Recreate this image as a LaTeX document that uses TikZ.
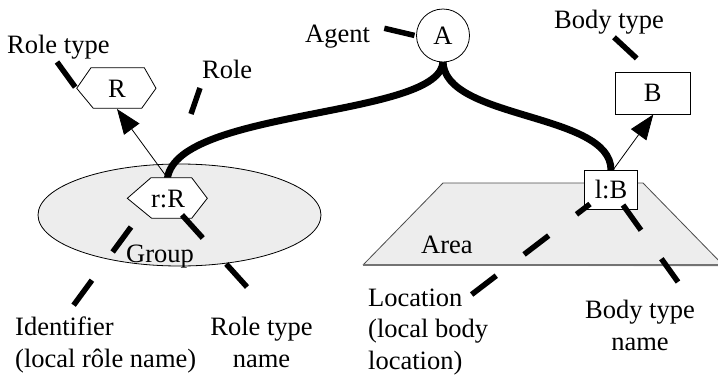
\documentclass[tikz,border=0pt]{standalone}
\usepackage{fontspec}
\setmainfont{Liberation Serif}
\usetikzlibrary{arrows.meta}

\definecolor{zonefill}{HTML}{EDEDED}

\tikzset{
  lbl/.style={inner sep=0pt, font=\fontsize{26.5}{31.5}\selectfont},
  lblL/.style={lbl, anchor=base west},
  lblC/.style={lbl, anchor=base},
  bond/.style={line width=7pt, line cap=round},
  typeof/.style={line width=0.8pt, -{Triangle[length=25pt,width=19pt]}},
  pointer/.style={line width=5.5pt, dash pattern=on 31pt off 35pt},
  shapeline/.style={line width=0.8pt, fill=white},
}

\begin{document}
\begin{tikzpicture}[x=1pt, y=-1pt]
\useasboundingbox (0,0) rectangle (718,378);

% group (ellipse) and area (trapezoid)
\draw[fill=zonefill, line width=0.8pt] (179.5,215) ellipse [x radius=141.5, y radius=51];
\fill[zonefill] (443,183) -- (643,183) -- (725,267) -- (363,265) -- cycle;
\draw[black!70, line width=0.8pt] (363,265) -- (443,183) -- (643,183) -- (725,267);
\draw[black!55, line width=2pt] (363,265) -- (718,265);

% anchor points of the connectors
\coordinate (Abot) at (443,61);
\coordinate (rRtop) at (167.5,178);
\coordinate (lBtop) at (611,170);
\coordinate (lBcorner) at (613,170);
\coordinate (Rbot) at (117,109);
\coordinate (Bbot) at (653.3,114.5);

% agent bonds to role and location
\draw[bond] (Abot) .. controls (443,118) and (178,108) .. (rRtop);
\draw[bond] (Abot) .. controls (443,120) and (611,112) .. (lBtop);

% instance-of arrows
\draw[typeof] (rRtop) -- (Rbot);
\draw[typeof] (lBcorner) -- (Bbot);

% role type and role
\draw[shapeline] (76.7,88.3) -- (91,67.7) -- (144.3,67.7) -- (156,88.3) -- (141.7,108.3) -- (93.3,108.3) -- cycle;
\node[lbl] (R) at (117,89) {R};
\draw[shapeline] (127.3,198.3) -- (151,177.7) -- (191.7,177.7) -- (207.3,198.3) -- (191.7,218.3) -- (151.7,218.3) -- cycle;
\node[lbl] (rR) at (168,199) {r:R};

% agent, body type, location
\node[draw, circle, line width=0.8pt, fill=white, minimum size=53pt, inner sep=0pt,
      font=\fontsize{26.5}{31.5}\selectfont] (A) at (443,35.5) {A};
\node[draw, rectangle, line width=0.8pt, fill=white, minimum width=74.3pt, minimum height=41.3pt,
      inner sep=0pt, font=\fontsize{26.5}{31.5}\selectfont] (B) at (652.8,93.3) {B};
\node[draw, rectangle, line width=0.8pt, fill=white, minimum width=53.4pt, minimum height=39pt,
      inner sep=0pt, font=\fontsize{26.5}{31.5}\selectfont] (lB) at (611,189.5) {l:B};

% labels (multi-line labels are placed by the baseline of their last line)
\node[lblL] (tRoleType) at (7,53) {Role type};
\node[lblL] (tRole) at (202,78) {Role};
\node[lblL] (tAgent) at (305,42) {Agent};
\node[lblL] (tBodyType) at (554,28.5) {Body type};
\node[lblL] (tGroup) at (126,262) {Group};
\node[lblL] (tArea) at (421,253) {Area};
\node[lbl, anchor=base west, align=left] (tIdent) at (15,367) {Identifier\\(local rôle name)};
\node[lbl, anchor=base, align=center] (tRTName) at (261.5,367) {Role type\\name};
\node[lbl, anchor=base west, align=left] (tLoc) at (368,369) {Location\\(local body\\location)};
\node[lbl, anchor=base, align=center] (tBTName) at (640,350) {Body type\\name};

% pointer ends
\coordinate (pRoleTypeA) at (57,62);     \coordinate (pRoleTypeB) at (75.5,87.5);
\coordinate (pRoleA) at (200,88);        \coordinate (pRoleB) at (191,114);
\coordinate (pAgentA) at (384.3,28.3);   \coordinate (pAgentB) at (415.7,35.7);
\coordinate (pBodyTypeA) at (614,37.3);  \coordinate (pBodyTypeB) at (637.7,59.3);
\coordinate (pIdentA) at (131,227);      \coordinate (pIdentB) at (73,306);
\coordinate (pRTNameA) at (182,215);     \coordinate (pRTNameB) at (247,287);
\coordinate (pLocA) at (590,204);        \coordinate (pLocB) at (471,295);
\coordinate (pBTNameA) at (623,205);     \coordinate (pBTNameB) at (678,282);

% label pointers
\draw[pointer] (pRoleTypeA) -- (pRoleTypeB);
\draw[pointer] (pRoleA) -- (pRoleB);
\draw[pointer] (pAgentA) -- (pAgentB);
\draw[pointer] (pBodyTypeA) -- (pBodyTypeB);
\draw[pointer] (pIdentA) -- (pIdentB);
\draw[pointer] (pRTNameA) -- (pRTNameB);
\draw[pointer, dash phase=14pt] (pLocA) -- (pLocB);
\draw[pointer] (pBTNameA) -- (pBTNameB);
\end{tikzpicture}
\end{document}
